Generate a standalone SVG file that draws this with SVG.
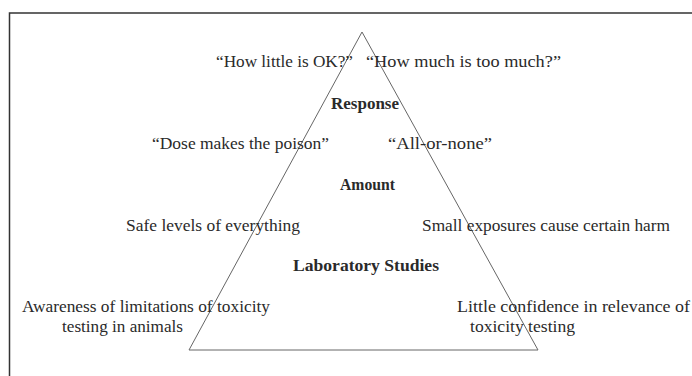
<svg xmlns="http://www.w3.org/2000/svg" width="692" height="376" viewBox="0 0 692 376">
<style>
.t{font-family:"Liberation Serif","Times New Roman",serif;font-size:16px;fill:#2a2a2a;}
.b{font-weight:bold;}
.ln{fill:none;stroke:#666;stroke-width:1;}
</style>
<rect x="0" y="0" width="692" height="376" fill="#fff"/>
<rect x="9.5" y="13" width="700" height="400" fill="none" stroke="#333" stroke-width="1.5"/>
<g id="connectors">
<polygon class="ln" points="362,32 189,350 538,350"/>
</g>
<g id="response">
<text class="t" x="216" y="67" textLength="137" lengthAdjust="spacingAndGlyphs">“How little is OK?”</text>
<text class="t" x="366" y="67" textLength="195" lengthAdjust="spacingAndGlyphs">“How much is too much?”</text>
<text class="t b" x="331" y="109" textLength="68" lengthAdjust="spacingAndGlyphs">Response</text>
</g>
<g id="amount">
<text class="t" x="152" y="149" textLength="177" lengthAdjust="spacingAndGlyphs">“Dose makes the poison”</text>
<text class="t" x="388" y="149" textLength="104" lengthAdjust="spacingAndGlyphs">“All-or-none”</text>
<text class="t b" x="340" y="190" textLength="55" lengthAdjust="spacingAndGlyphs">Amount</text>
</g>
<g id="laboratory">
<text class="t" x="126" y="231" textLength="174" lengthAdjust="spacingAndGlyphs">Safe levels of everything</text>
<text class="t" x="422" y="231" textLength="248" lengthAdjust="spacingAndGlyphs">Small exposures cause certain harm</text>
<text class="t b" x="293" y="271" textLength="146" lengthAdjust="spacingAndGlyphs">Laboratory Studies</text>
</g>
<g id="base">
<text class="t" x="22" y="312" textLength="248" lengthAdjust="spacingAndGlyphs">Awareness of limitations of toxicity</text>
<text class="t" x="62" y="332" textLength="121" lengthAdjust="spacingAndGlyphs">testing in animals</text>
<text class="t" x="457" y="312" textLength="233" lengthAdjust="spacingAndGlyphs">Little confidence in relevance of</text>
<text class="t" x="470" y="332" textLength="105" lengthAdjust="spacingAndGlyphs">toxicity testing</text>
</g>
</svg>
